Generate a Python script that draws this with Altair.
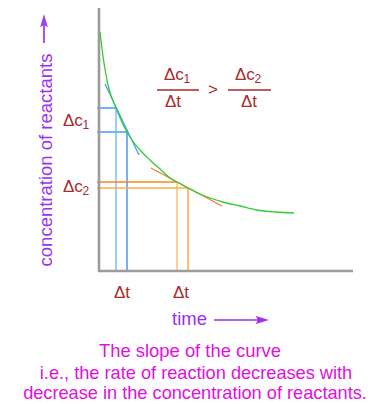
import altair as alt
import pandas as pd

# ---- diagram data (reference pixel units) ----
curve_x = [100, 104, 108, 116, 127, 132, 140, 150, 160, 173, 177, 188, 200, 223, 240, 257, 275, 294]
curve_y = [32, 63, 85, 108, 132, 140, 150, 160, 169, 180, 182, 188, 194, 202, 206, 210, 212, 213]

seg_x1 = [105, 97, 97, 116, 127, 151, 97, 97, 177, 188, 157, 228, 44, 214, 99, 98]
seg_y1 = [84, 108, 132, 108, 132, 168, 182, 188, 182, 188, 90, 90, 43, 320, 8, 271]
seg_x2 = [139, 116, 127, 116, 127, 222, 177, 188, 177, 188, 199, 271, 44, 258, 99, 353]
seg_y2 = [155, 108, 132, 271, 271, 206, 182, 188, 271, 271, 90, 90, 24, 320, 272, 271]
seg_col = ["#3a9af5", "#1f8cff", "#1f8cff", "#6ab4f5", "#2f86ea", "#ee7a2a",
           "#f08a1c", "#ffac48", "#ffb458", "#ff9a30", "#a82a2a", "#a82a2a",
           "#a040f0", "#9a30f0", "#9c9c9c", "#9c9c9c"]
seg_w = [1.2, 1.3, 1.3, 1.3, 1.3, 1.2, 1.3, 1.3, 1.3, 1.3, 1.4, 1.4, 1.8, 1.4, 2.6, 2.6]

head_x = [44, 262]
head_y = [21, 320]
head_angle = [0, 90]
head_col = ["#a040f0", "#9a30f0"]

RED = "#a82a2a"
PURPLE = "#9a30f0"
MAG = "#e010e0"

lt_text = ["Δc", "1", "Δc", "2", "Δc", "1", "Δc", "2", "time"]
lt_x = [164, 183.5, 235, 254.5, 63, 82.5, 63, 82.5, 172]
lt_y = [80, 83, 80, 83, 126, 129, 192, 195, 325]
lt_size = [17, 12, 17, 12, 17, 12, 17, 12, 18.5]
lt_col = [RED, RED, RED, RED, RED, RED, RED, RED, PURPLE]

ct_text = ["Δt", "Δt", ">", "Δt", "Δt",
           "The slope of the curve",
           "i.e., the rate of reaction decreases with",
           "decrease in the concentration of reactants."]
ct_x = [173, 249, 213, 122, 181, 190, 196, 195]
ct_y = [107, 107, 95, 298, 298, 357, 379, 399]
ct_size = [17, 17, 17, 17, 17, 18.4, 18.2, 18.2]
ct_col = [RED, RED, RED, RED, RED, MAG, MAG, MAG]

ylab_text = ["concentration of reactants"]
ylab_x = [52]
ylab_y = [160]

W, H = 362, 396
xs = alt.Scale(domain=[8, 370], nice=False, zero=False)
ys = alt.Scale(domain=[8, 404], nice=False, zero=False, reverse=True)

segs = pd.DataFrame({"x": seg_x1, "y": seg_y1, "x2": seg_x2, "y2": seg_y2,
                     "c": seg_col, "w": seg_w, "i": list(range(len(seg_x1)))})
curve = pd.DataFrame({"x": curve_x, "y": curve_y})
heads = pd.DataFrame({"x": head_x, "y": head_y, "a": head_angle, "c": head_col})
lt = pd.DataFrame({"x": lt_x, "y": lt_y, "t": lt_text, "s": lt_size, "c": lt_col})
ct = pd.DataFrame({"x": ct_x, "y": ct_y, "t": ct_text, "s": ct_size, "c": ct_col})
yl = pd.DataFrame({"x": ylab_x, "y": ylab_y, "t": ylab_text})

X = lambda f="x": alt.X(f"{f}:Q", scale=xs, axis=None)
Y = lambda f="y": alt.Y(f"{f}:Q", scale=ys, axis=None)

rules = alt.Chart(segs).mark_rule().encode(
    x=X(), y=Y(), x2="x2:Q", y2="y2:Q",
    color=alt.Color("c:N", scale=None),
    strokeWidth=alt.StrokeWidth("w:Q", scale=None),
)

line = alt.Chart(curve).mark_line(color="#33cc33", strokeWidth=1.3, interpolate="monotone").encode(
    x=X(), y=Y()
)

arrow_heads = alt.Chart(heads).mark_point(
    shape="M0,-1L0.55,0.9L0,0.55L-0.55,0.9Z", filled=True, opacity=1, size=200
).encode(x=X(), y=Y(), angle=alt.Angle("a:Q", scale=None), color=alt.Color("c:N", scale=None))

left_text = alt.Chart(lt).mark_text(font="Liberation Sans", align="left", baseline="alphabetic").encode(
    x=X(), y=Y(), text="t:N", size=alt.Size("s:Q", scale=None), color=alt.Color("c:N", scale=None)
)
center_text = alt.Chart(ct).mark_text(font="Liberation Sans", align="center", baseline="alphabetic").encode(
    x=X(), y=Y(), text="t:N", size=alt.Size("s:Q", scale=None), color=alt.Color("c:N", scale=None)
)
ylabel = alt.Chart(yl).mark_text(font="Liberation Sans", align="center", baseline="alphabetic",
                                 angle=270, fontSize=18.5, color=PURPLE).encode(
    x=X(), y=Y(), text="t:N"
)

chart = alt.layer(rules, line, arrow_heads, left_text, center_text, ylabel).properties(
    width=W, height=H, padding=0, autosize=alt.AutoSizeParams(type="none")
).configure_view(strokeWidth=0)

chart.save("out.html", embed_options={"renderer": "svg", "actions": False})
